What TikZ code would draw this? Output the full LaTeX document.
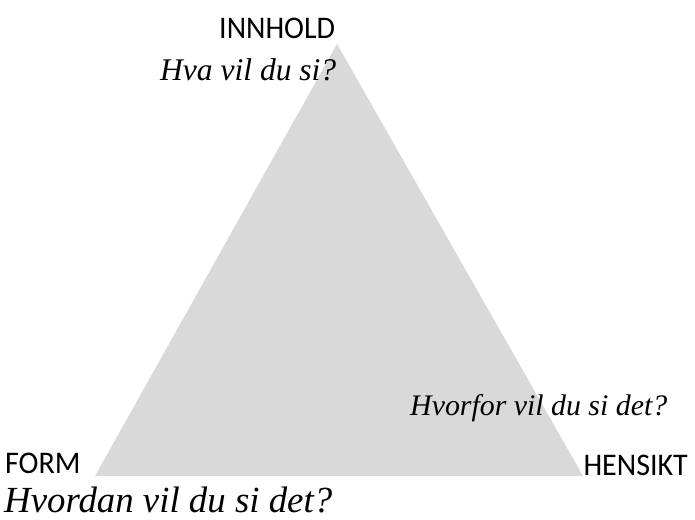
\documentclass[tikz,border=0pt]{standalone}
\usepackage{fontspec}
\usepackage{graphicx}
\newfontfamily\labelfont{Carlito}
\newfontfamily\handfont{Liberation Serif}
\newcommand{\tallbox}[1]{\scalebox{1}[1.05]{#1}}
\begin{document}
\begin{tikzpicture}[x=1pt,y=-1pt,
  lbl/.style={inner sep=0pt,font=\labelfont\fontsize{30}{36}\selectfont,text=black},
  hand/.style={inner sep=0pt,text=black}]
\useasboundingbox (0,0) rectangle (695,519);
\coordinate (top) at (337,44);
\coordinate (bl) at (95,476);
\coordinate (br) at (583,476);
\fill[fill={rgb,255:red,217;green,217;blue,217}] (top) -- (br) -- (bl) -- cycle;
\node[lbl,anchor=base west] (innhold) at (219,38) {\tallbox{INNHOLD}};
\node[lbl,anchor=base west] (form) at (5,473) {\tallbox{FORM}};
\node[lbl,anchor=base east] (hensikt) at (688,475) {\tallbox{HENSIKT}};
\node[hand,anchor=base west] (hva) at (160,80) {\resizebox{176pt}{!}{\handfont\itshape Hva vil du si?}};
\node[hand,anchor=base west] (hvorfor) at (410,415) {\resizebox{257pt}{!}{\handfont\itshape Hvorfor vil du si det?}};
\node[hand,anchor=base west] (hvordan) at (4,512) {\resizebox{328pt}{!}{\handfont\itshape Hvordan vil du si det?}};
\end{tikzpicture}
\end{document}
